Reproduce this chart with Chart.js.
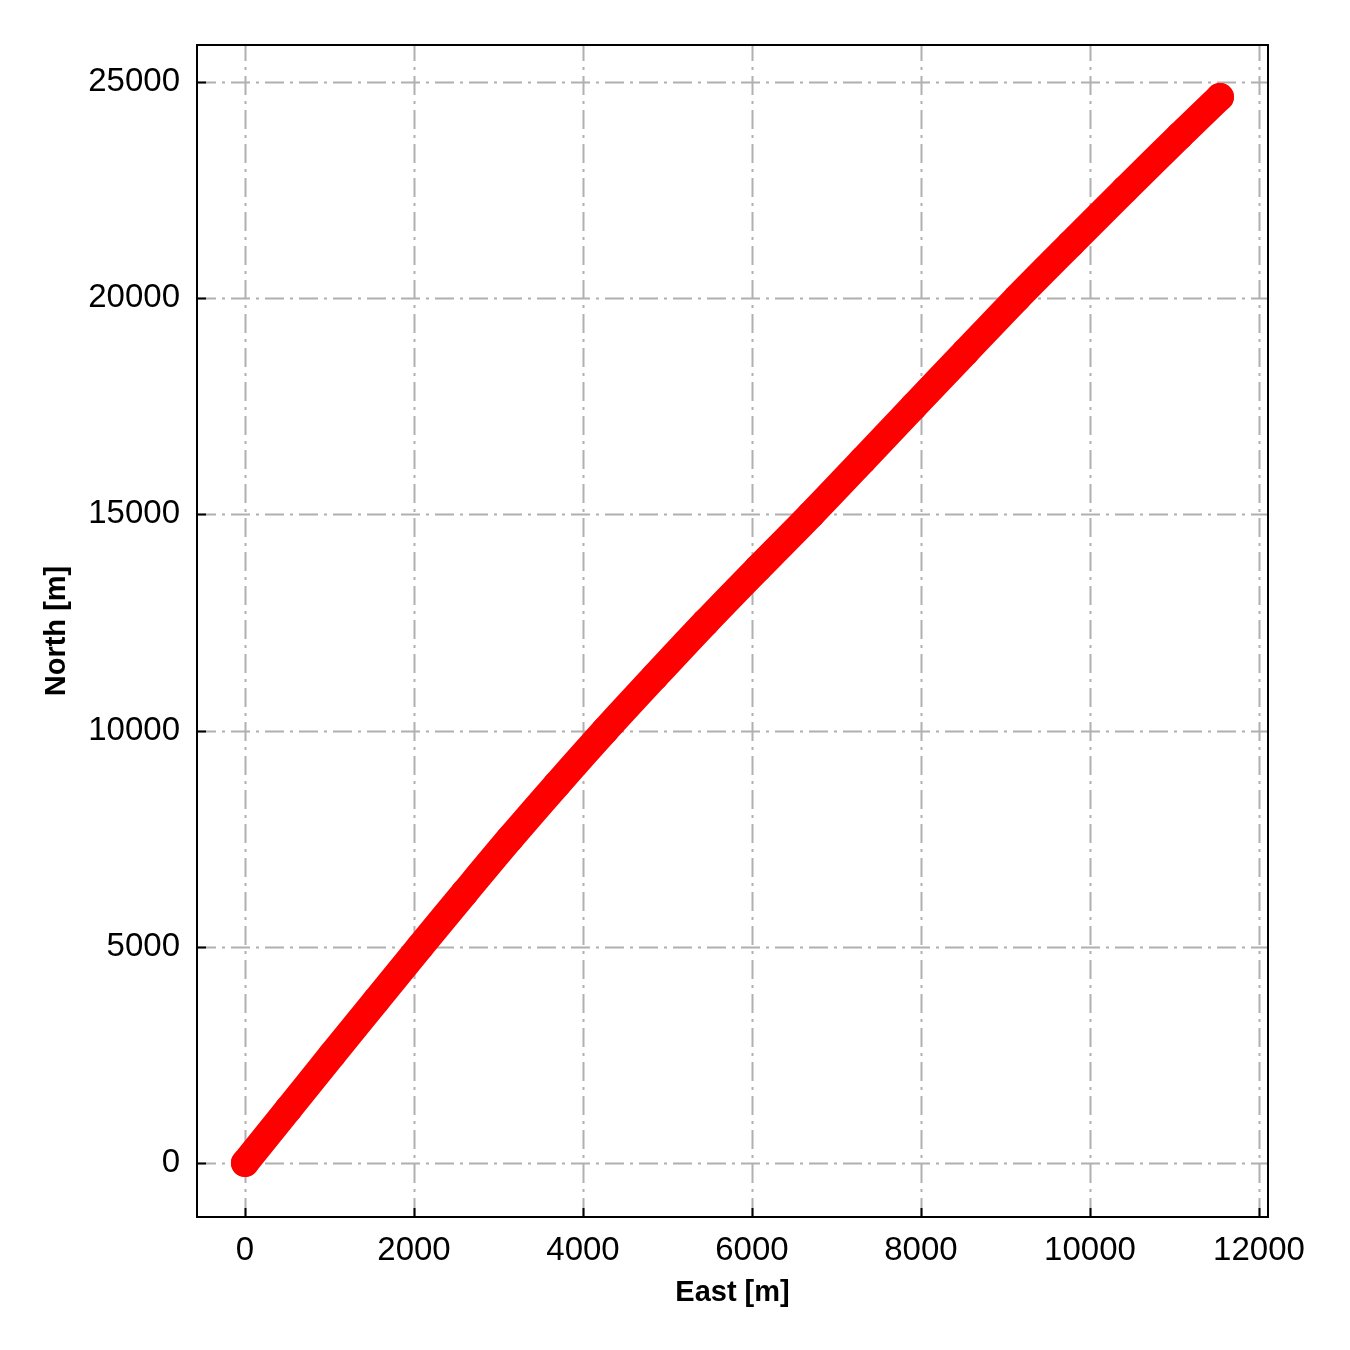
<!DOCTYPE html>
<html>
<head>
<meta charset="utf-8">
<script src="https://cdn.jsdelivr.net/npm/chart.js@4.4.1/dist/chart.umd.min.js"></script>
<style>
  html, body { margin: 0; padding: 0; background: #fff; }
  #wrap { width: 1350px; height: 1350px; }
</style>
</head>
<body>
<div id="wrap"><canvas id="myChart" width="1350" height="1350"></canvas></div>
<script>
// track (metres)
const east  = [0, 515, 1030, 1550, 2071, 2600, 3135, 3690, 4260, 4850, 5450, 6070, 6700, 7310, 7915, 8525, 9136, 9770, 10410, 11060, 11538];
const north = [0, 1250, 2500, 3750, 5000, 6250, 7500, 8750, 10000, 11250, 12500, 13750, 15000, 16250, 17500, 18750, 20000, 21250, 22500, 23750, 24653];

const xTicks = [0, 2000, 4000, 6000, 8000, 10000, 12000];
const yTicks = [0, 5000, 10000, 15000, 20000, 25000];

const puntos = east.map((e, i) => ({ x: e, y: north[i] }));

// grid dash-dot + frame + inward ticks
const marco = {
  id: 'marco',
  beforeDatasetsDraw(chart) {
    const { ctx, chartArea: a, scales } = chart;
    ctx.save();
    ctx.strokeStyle = '#b0b0b0';
    ctx.lineWidth = 2;
    ctx.setLineDash([19, 6, 3, 6]);
    xTicks.forEach(v => {
      const px = Math.round(scales.x.getPixelForValue(v)) + 0.5;
      ctx.beginPath(); ctx.moveTo(px, a.bottom); ctx.lineTo(px, a.top); ctx.stroke();
    });
    yTicks.forEach(v => {
      const py = Math.round(scales.y.getPixelForValue(v)) + 0.5;
      ctx.beginPath(); ctx.moveTo(a.left, py); ctx.lineTo(a.right, py); ctx.stroke();
    });
    ctx.restore();
  },
  afterDatasetsDraw(chart) {
    const { ctx, chartArea: a, scales } = chart;
    ctx.save();
    ctx.strokeStyle = '#000';
    ctx.lineWidth = 2;
    ctx.setLineDash([]);
    ctx.strokeRect(a.left, a.top, a.right - a.left, a.bottom - a.top);
    xTicks.forEach(v => {
      const px = Math.round(scales.x.getPixelForValue(v)) + 0.5;
      ctx.beginPath(); ctx.moveTo(px, a.bottom); ctx.lineTo(px, a.bottom - 9); ctx.stroke();
    });
    yTicks.forEach(v => {
      const py = Math.round(scales.y.getPixelForValue(v)) + 0.5;
      ctx.beginPath(); ctx.moveTo(a.left, py); ctx.lineTo(a.left + 9, py); ctx.stroke();
    });
    ctx.restore();
  }
};

const ctx = document.getElementById('myChart').getContext('2d');
let myChart = new Chart(ctx, {
  type: 'scatter',
  data: {
    datasets: [{
      label: 'track',
      data: puntos,
      showLine: true,
      borderColor: '#ff0000',
      backgroundColor: '#ff0000',
      borderWidth: 28,
      borderCapStyle: 'round',
      borderJoinStyle: 'round',
      pointRadius: 14,
      pointBorderWidth: 0,
      tension: 0.3
    }]
  },
  options: {
    responsive: false,
    animation: false,
    layout: { padding: { left: 0, top: 45, right: 82, bottom: 0 } },
    plugins: { legend: { display: false }, tooltip: { enabled: false } },
    scales: {
      x: {
        type: 'linear',
        min: -568,
        max: 12107,
        afterFit: s => { s.height = 133; },
        afterBuildTicks: s => { s.ticks = xTicks.map(v => ({ value: v })); },
        grid: { display: false, drawTicks: false },
        border: { display: false },
        ticks: {
          color: '#000',
          padding: 14,
          maxRotation: 0,
          callback: v => String(v),
          font: { family: 'Liberation Sans, Arial, sans-serif', size: 33 }
        },
        title: {
          display: true,
          text: 'East [m]',
          color: '#000',
          padding: { top: 0, bottom: 40 },
          font: { family: 'Liberation Sans, Arial, sans-serif', size: 29, weight: 'bold', lineHeight: 1.2 }
        }
      },
      y: {
        type: 'linear',
        min: -1249,
        max: 25856,
        afterFit: s => { s.width = 197; },
        afterBuildTicks: s => { s.ticks = yTicks.map(v => ({ value: v })); },
        grid: { display: false, drawTicks: false },
        border: { display: false },
        ticks: {
          color: '#000',
          padding: 17,
          callback: v => String(v),
          font: { family: 'Liberation Sans, Arial, sans-serif', size: 33 }
        },
        title: {
          display: true,
          text: 'North [m]',
          color: '#000',
          padding: { top: 40, bottom: 0 },
          font: { family: 'Liberation Sans, Arial, sans-serif', size: 29, weight: 'bold', lineHeight: 1.2 }
        }
      }
    }
  },
  plugins: [marco]
});
</script>
</body>
</html>
